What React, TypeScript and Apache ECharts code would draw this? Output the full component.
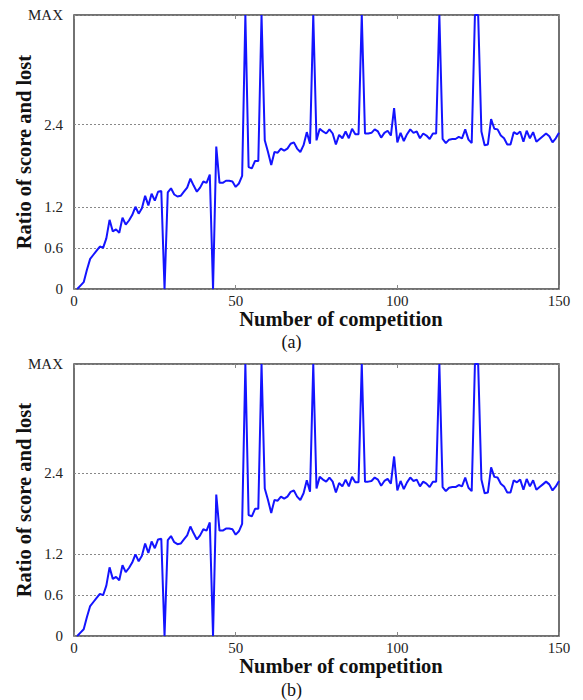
import React, { useEffect, useRef } from "react";
import * as echarts from "echarts";

const MAX = 4;

// Ratio of score and lost for competitions 1..150 (MAX = unbounded)
const ratioValues: number[] = [
  0, 0.05, 0.1, 0.28, 0.44, 0.5, 0.56, 0.62, 0.6, 0.74,
  1.01, 0.84, 0.87, 0.82, 1.04, 0.94, 1.0, 1.08, 1.2, 1.1,
  1.18, 1.36, 1.22, 1.39, 1.29, 1.42, 1.43, 0, 1.41, 1.47,
  1.38, 1.35, 1.36, 1.42, 1.48, 1.61, 1.51, 1.42, 1.48, 1.57,
  1.55, 1.67, 0, 2.08, 1.55, 1.55, 1.58, 1.58, 1.57, 1.49,
  1.54, 1.65, MAX, 1.78, 1.76, 1.87, 1.87, MAX, 2.17, 2.0,
  1.81, 2.0, 1.99, 2.05, 2.02, 2.05, 2.12, 2.14, 2.05, 2.0,
  2.1, 2.29, 2.12, MAX, 2.17, 2.34, 2.3, 2.27, 2.33, 2.27,
  2.11, 2.25, 2.2, 2.3, 2.2, 2.34, 2.26, 2.26, MAX, 2.27,
  2.27, 2.28, 2.33, 2.3, 2.21, 2.28, 2.31, 2.24, 2.64, 2.14,
  2.28, 2.16, 2.26, 2.33, 2.28, 2.3, 2.2, 2.27, 2.24, 2.19,
  2.27, 2.27, MAX, 2.19, 2.13, 2.18, 2.19, 2.19, 2.22, 2.2,
  2.33, 2.18, 2.13, MAX, MAX, 2.3, 2.1, 2.11, 2.48, 2.34,
  2.33, 2.24, 2.2, 2.11, 2.11, 2.29, 2.26, 2.3, 2.15, 2.31,
  2.2, 2.29, 2.15, 2.19, 2.23, 2.27, 2.23, 2.14, 2.2, 2.28,
];

const firstCompetition = 1;
const yTickValues = [0, 0.6, 1.2, 2.4, MAX];
const xTickInterval = 50;
const xMin = 0;
const xMax = 150;
const panelCaptions = ["(a)", "(b)"];
const xAxisName = "Number of competition";
const yAxisName = "Ratio of score and lost";

const FONT = "Liberation Serif";

export default function App() {
  const ref = useRef<HTMLDivElement>(null);

  useEffect(() => {
    if (!ref.current) return;
    const chart = echarts.init(ref.current, null, { renderer: "svg" });
    const points = ratioValues.map((v, i) => [firstCompetition + i, v]);

    const grids = [
      { left: 74, top: 15, width: 485, height: 274 },
      { left: 74, top: 364, width: 485, height: 272 },
    ];

    const xAxes: any[] = [];
    const yAxes: any[] = [];
    grids.forEach((_, gi) => {
      xAxes.push({
        type: "value",
        gridIndex: gi,
        position: "bottom",
        min: xMin,
        max: xMax,
        interval: xTickInterval,
        axisLine: { show: false },
        axisTick: { show: true, inside: true, length: 4, lineStyle: { color: "#888", width: 1 } },
        axisLabel: { color: "#222", fontFamily: FONT, fontSize: 15, margin: 4 },
        splitLine: { show: false },
        name: xAxisName,
        nameLocation: "middle",
        nameGap: 19,
        nameMoveOverlap: false,
        nameTextStyle: {
          fontFamily: FONT,
          fontSize: 20.5,
          fontWeight: "bold",
          color: "#111",
          padding: [0, 0, 0, 49],
        },
      });
      xAxes.push({
        type: "value",
        gridIndex: gi,
        position: "top",
        min: xMin,
        max: xMax,
        interval: xTickInterval,
        axisLine: { show: false },
        axisTick: { show: true, inside: true, length: 4, lineStyle: { color: "#888", width: 1 } },
        axisLabel: { show: false },
        splitLine: { show: false },
      });
      yAxes.push({
        type: "value",
        gridIndex: gi,
        min: 0,
        max: MAX,
        axisLine: { show: false },
        axisTick: { show: false, customValues: yTickValues },
        axisLabel: {
          customValues: yTickValues,
          color: "#222",
          fontFamily: FONT,
          fontSize: 15,
          margin: 11,
          formatter: (v: number) => (v === MAX ? "MAX" : String(v)),
        },
        splitLine: {
          show: true,
          lineStyle: { color: "#888", type: [2, 2], width: 1 },
        },
        name: yAxisName,
        nameLocation: "middle",
        nameGap: 40,
        nameMoveOverlap: false,
        nameTextStyle: {
          fontFamily: FONT,
          fontSize: 20.5,
          fontWeight: "bold",
          color: "#111",
        },
      });
    });

    chart.setOption({
      animation: false,
      backgroundColor: "#fff",
      title: panelCaptions.map((t, i) => ({
        text: t,
        left: "center",
        top: i === 0 ? 328 : 676,
        textStyle: { fontFamily: FONT, fontSize: 18, fontWeight: "normal", color: "#111" },
      })),
      grid: grids.map((g) => ({
        ...g,
        show: true,
        containLabel: false,
        outerBoundsMode: "none",
        borderColor: "#444",
        borderWidth: 1.5,
        backgroundColor: "transparent",
      })),
      xAxis: xAxes,
      yAxis: yAxes,
      series: grids.map((_, gi) => ({
        type: "line",
        xAxisIndex: gi * 2,
        yAxisIndex: gi,
        data: points,
        showSymbol: false,
        clip: true,
        lineStyle: { color: "#1414ff", width: 2 },
        z: 3,
      })),
    });

    return () => chart.dispose();
  }, []);

  return (
    <div
      ref={ref}
      style={{ position: "fixed", left: 0, top: 0, width: 583, height: 700, background: "#fff" }}
    />
  );
}
